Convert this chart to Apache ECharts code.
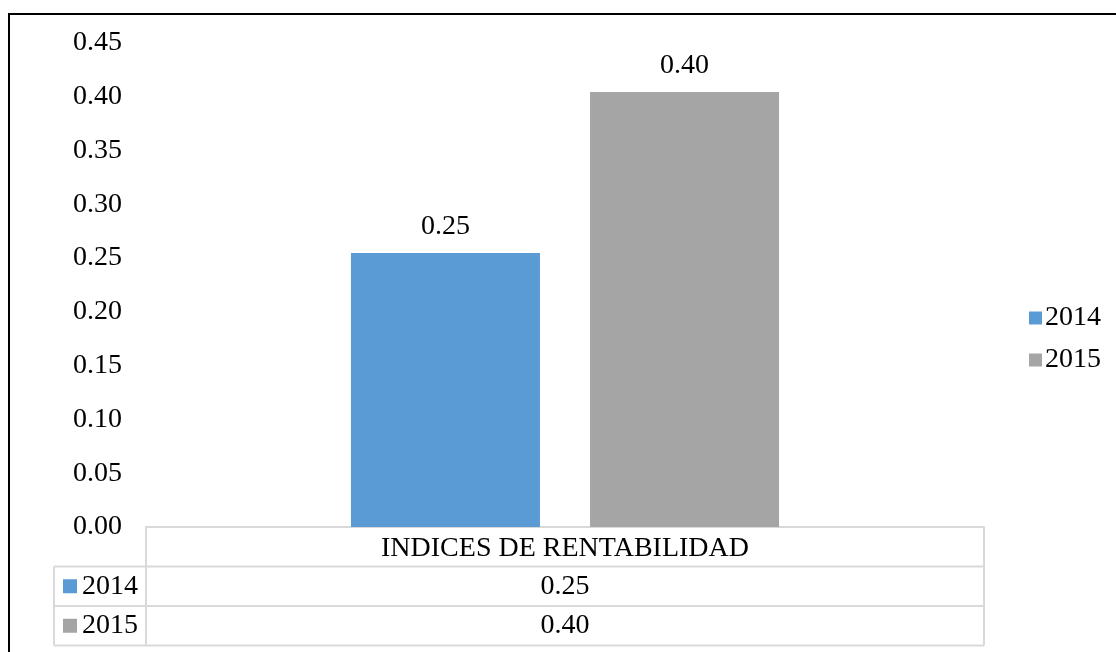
<!DOCTYPE html>
<html>
<head>
<meta charset="utf-8">
<title>Indices de rentabilidad</title>
<script src="https://cdn.jsdelivr.net/npm/echarts@6/dist/echarts.min.js"></script>
<style>
  html, body { margin: 0; padding: 0; background: #ffffff; }
  #chart { width: 1116px; height: 652px; }
</style>
</head>
<body>
<div id="chart"></div>
<script>
// Data
const categories = ['INDICES DE RENTABILIDAD'];
const seriesNames = ['2014', '2015'];
const values2014 = [0.2548];
const values2015 = [0.4044];
const seriesColors = ['#5b9bd5', '#a5a5a5'];
const yMin = 0, yMax = 0.45, yStep = 0.05;

// Layout
const FONT = '"Liberation Serif", "Times New Roman", serif';
const FS = 28;
const W = 1116, H = 652;
const plotLeft = 146, plotRight = 984, plotTop = 43, axisY = 527;
const rowH = 39.5;
const keyColLeft = 54;
const gridLine = '#d9d9d9';

const fmt = v => v.toFixed(2);
const allValues = [values2014, values2015];

const chart = echarts.init(document.getElementById('chart'), null, { renderer: 'canvas' });

// Data table under the plot: grid lines, series keys and values
function tableGraphics() {
  const g = [];
  const bottom = axisY + rowH * (1 + seriesNames.length);
  const line = (x1, y1, x2, y2) => ({
    type: 'line', silent: true,
    shape: { x1, y1, x2, y2 },
    style: { stroke: gridLine, lineWidth: 2 }
  });
  g.push(line(plotLeft, axisY, plotLeft, bottom));
  g.push(line(plotRight, axisY, plotRight, bottom));
  g.push(line(keyColLeft, axisY + rowH, keyColLeft, bottom));
  for (let r = 1; r <= seriesNames.length; r++) {
    g.push(line(keyColLeft, axisY + rowH * r, plotRight, axisY + rowH * r));
  }
  g.push(line(keyColLeft, bottom, plotRight, bottom));
  const colW = (plotRight - plotLeft) / categories.length;
  seriesNames.forEach((name, i) => {
    const cy = axisY + rowH * (i + 1.5);
    g.push({
      type: 'rect', silent: true,
      shape: { x: 63, y: cy - 7, width: 14, height: 14 },
      style: { fill: seriesColors[i] }
    });
    g.push({
      type: 'text', silent: true,
      x: 82, y: cy,
      style: { text: name, font: FS + 'px ' + FONT, fill: '#000', verticalAlign: 'middle' }
    });
    allValues[i].forEach((v, c) => {
      g.push({
        type: 'text', silent: true,
        x: plotLeft + colW * (c + 0.5), y: cy,
        style: { text: fmt(v), font: FS + 'px ' + FONT, fill: '#000', align: 'center', verticalAlign: 'middle' }
      });
    });
  });
  // outer frame
  g.push({
    type: 'rect', silent: true,
    shape: { x: 9, y: 14, width: W + 40, height: H + 40 },
    style: { fill: 'none', stroke: '#000', lineWidth: 2 }
  });
  return g;
}

const labelStyle = {
  show: true, position: 'top', distance: 12,
  fontFamily: FONT, fontSize: FS, color: '#000',
  formatter: p => fmt(p.value)
};

chart.setOption({
  animation: false,
  backgroundColor: '#ffffff',
  textStyle: { fontFamily: FONT },
  grid: {
    left: plotLeft, right: W - plotRight, top: plotTop, bottom: H - axisY,
    containLabel: false
  },
  legend: {
    orient: 'vertical',
    left: 1024, top: 299,
    icon: 'rect', itemWidth: 13, itemHeight: 13, itemGap: 14,
    textStyle: { fontFamily: FONT, fontSize: FS, color: '#000', padding: [0, 0, 0, -2] },
    data: seriesNames
  },
  xAxis: {
    type: 'category',
    data: categories,
    axisLine: { show: true, lineStyle: { color: gridLine, width: 2 } },
    axisTick: { show: false },
    axisLabel: { fontFamily: FONT, fontSize: FS, color: '#000', margin: 8 },
    splitLine: { show: false }
  },
  yAxis: {
    type: 'value',
    min: yMin, max: yMax, interval: yStep,
    axisLine: { show: false },
    axisTick: { show: false },
    splitLine: { show: false },
    axisLabel: { fontFamily: FONT, fontSize: FS, color: '#000', margin: 24, formatter: v => v.toFixed(2) }
  },
  series: [
    {
      name: seriesNames[0], type: 'bar', data: values2014,
      itemStyle: { color: seriesColors[0] },
      barWidth: 189, barGap: '26.5%',
      label: labelStyle
    },
    {
      name: seriesNames[1], type: 'bar', data: values2015,
      itemStyle: { color: seriesColors[1] },
      barWidth: 189, barGap: '26.5%',
      label: labelStyle
    }
  ],
  graphic: tableGraphics()
});
</script>
</body>
</html>
